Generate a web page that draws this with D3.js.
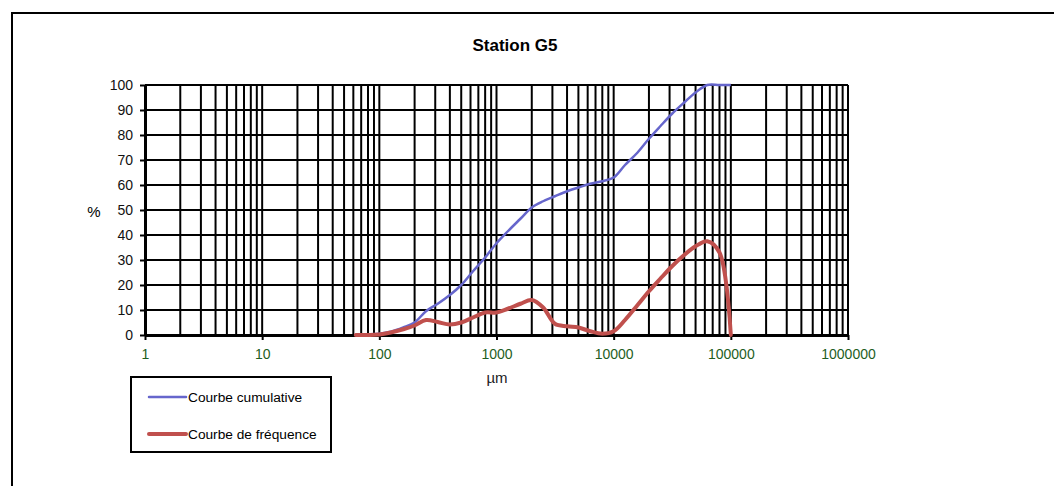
<!DOCTYPE html>
<html>
<head>
<meta charset="utf-8">
<script src="https://cdn.jsdelivr.net/npm/d3@7"></script>
<style>
  html, body { margin: 0; padding: 0; background: #fff; }
  svg { display: block; }
  text { font-family: "Liberation Sans", Arial, sans-serif; }
</style>
</head>
<body>
<svg id="chart" width="1054" height="486"></svg>
<script>
// Sieve sizes (µm) and measured percentages
const sizes = [63, 80, 100, 125, 160, 200, 250, 315, 400, 500, 630, 800, 1000, 1250, 1600, 2000, 2500, 3150, 4000, 5000, 6300, 8000, 10000, 12500, 16000, 20000, 25000, 31500, 40000, 50000, 63000, 80000, 100000];
const cumulative = [0, 0.2, 0.5, 1.3, 3, 5, 9.5, 12.5, 16, 20, 25.5, 31, 36.7, 41.5, 46.5, 51, 53.5, 55.5, 57.5, 59, 60.5, 61.5, 63, 68, 73, 78.5, 83.5, 88.5, 93, 97, 100, 100, 100];
const frequency = [0, 0, 0.2, 1, 2.3, 3.8, 6, 5.2, 4.2, 5, 7, 9, 9, 10.5, 12.5, 14, 11, 4.5, 3.5, 3, 1.5, 0.5, 1.5, 6, 12, 17.5, 22.5, 27.5, 32, 35.5, 37.5, 33, 0];

const xTickValues = [1, 10, 100, 1000, 10000, 100000, 1000000];
const yTickValues = [0, 10, 20, 30, 40, 50, 60, 70, 80, 90, 100];

const seriesNames = ["Courbe cumulative", "Courbe de fréquence"];
const seriesColors = ["#6666cc", "#c0504d"];

const svg = d3.select("#chart");

// Outer chart frame (extends past right and bottom edges)
svg.append("path")
  .attr("d", "M12,486 V13 H1060")
  .attr("fill", "none")
  .attr("stroke", "#000")
  .attr("stroke-width", 2);

svg.append("text")
  .attr("x", 515).attr("y", 51)
  .attr("text-anchor", "middle")
  .attr("font-size", 17).attr("font-weight", "bold")
  .text("Station G5");

const x = d3.scaleLog().domain([1, 1000000]).range([145, 848]);
const y = d3.scaleLinear().domain([0, 100]).range([335, 85]);

// Grid: every log minor division and every 10 %
const minor = x.ticks();
svg.append("g").selectAll("line").data(minor).join("line")
  .attr("x1", d => x(d)).attr("x2", d => x(d))
  .attr("y1", y(0)).attr("y2", y(100))
  .attr("stroke", "#000").attr("stroke-width", 2);

svg.append("g").selectAll("line").data(yTickValues).join("line")
  .attr("x1", x(1)).attr("x2", x(1000000))
  .attr("y1", d => y(d)).attr("y2", d => y(d))
  .attr("stroke", "#000").attr("stroke-width", 2);

// Axes
const xAxis = svg.append("g")
  .attr("transform", `translate(0,${y(0)})`)
  .call(d3.axisBottom(x).tickValues(xTickValues).tickFormat(d3.format("d")).tickSizeInner(5).tickSizeOuter(0).tickPadding(9));
xAxis.select(".domain").attr("stroke", "#000").attr("stroke-width", 3);
xAxis.selectAll(".tick line").attr("stroke", "#000").attr("stroke-width", 2);
xAxis.selectAll("text")
  .attr("font-size", 14)
  .attr("font-family", "Liberation Sans, Arial, sans-serif")
  .attr("fill", "#1e5e1e");

const yAxis = svg.append("g")
  .attr("transform", `translate(${x(1)},0)`)
  .call(d3.axisLeft(y).tickValues(yTickValues).tickSizeInner(5).tickSizeOuter(0).tickPadding(7));
yAxis.select(".domain").attr("stroke", "#000").attr("stroke-width", 3);
yAxis.selectAll(".tick line").attr("stroke", "#000").attr("stroke-width", 2);
yAxis.selectAll("text")
  .attr("font-size", 14)
  .attr("font-family", "Liberation Sans, Arial, sans-serif")
  .attr("fill", "#111");

svg.append("text")
  .attr("x", 94).attr("y", 217)
  .attr("text-anchor", "middle").attr("font-size", 15)
  .text("%");

svg.append("text")
  .attr("x", 497).attr("y", 383)
  .attr("text-anchor", "middle").attr("font-size", 15)
  .attr("fill", "#222")
  .text("µm");

// Curves
const line = d3.line()
  .x(d => x(d[0]))
  .y(d => y(d[1]))
  .curve(d3.curveCatmullRom.alpha(0.5));

svg.append("path")
  .datum(sizes.map((s, i) => [s, cumulative[i]]))
  .attr("d", line)
  .attr("fill", "none")
  .attr("stroke", seriesColors[0])
  .attr("stroke-width", 2.5)
  .attr("stroke-linejoin", "round");

svg.append("path")
  .datum(sizes.map((s, i) => [s, frequency[i]]))
  .attr("d", line)
  .attr("fill", "none")
  .attr("stroke", seriesColors[1])
  .attr("stroke-width", 4)
  .attr("stroke-linecap", "round")
  .attr("stroke-linejoin", "round");

// Legend
const legend = svg.append("g");
legend.append("rect")
  .attr("x", 131).attr("y", 377).attr("width", 200).attr("height", 75)
  .attr("fill", "#fff").attr("stroke", "#000").attr("stroke-width", 2);

const legendY = [397, 434];
const legendW = [2.5, 4];
seriesNames.forEach((name, i) => {
  legend.append("line")
    .attr("x1", 149).attr("x2", 186)
    .attr("y1", legendY[i]).attr("y2", legendY[i])
    .attr("stroke", seriesColors[i]).attr("stroke-width", legendW[i])
    .attr("stroke-linecap", "round");
  legend.append("text")
    .attr("x", 188).attr("y", legendY[i] + 5)
    .attr("font-size", 13.7)
    .text(name);
});
</script>
</body>
</html>
